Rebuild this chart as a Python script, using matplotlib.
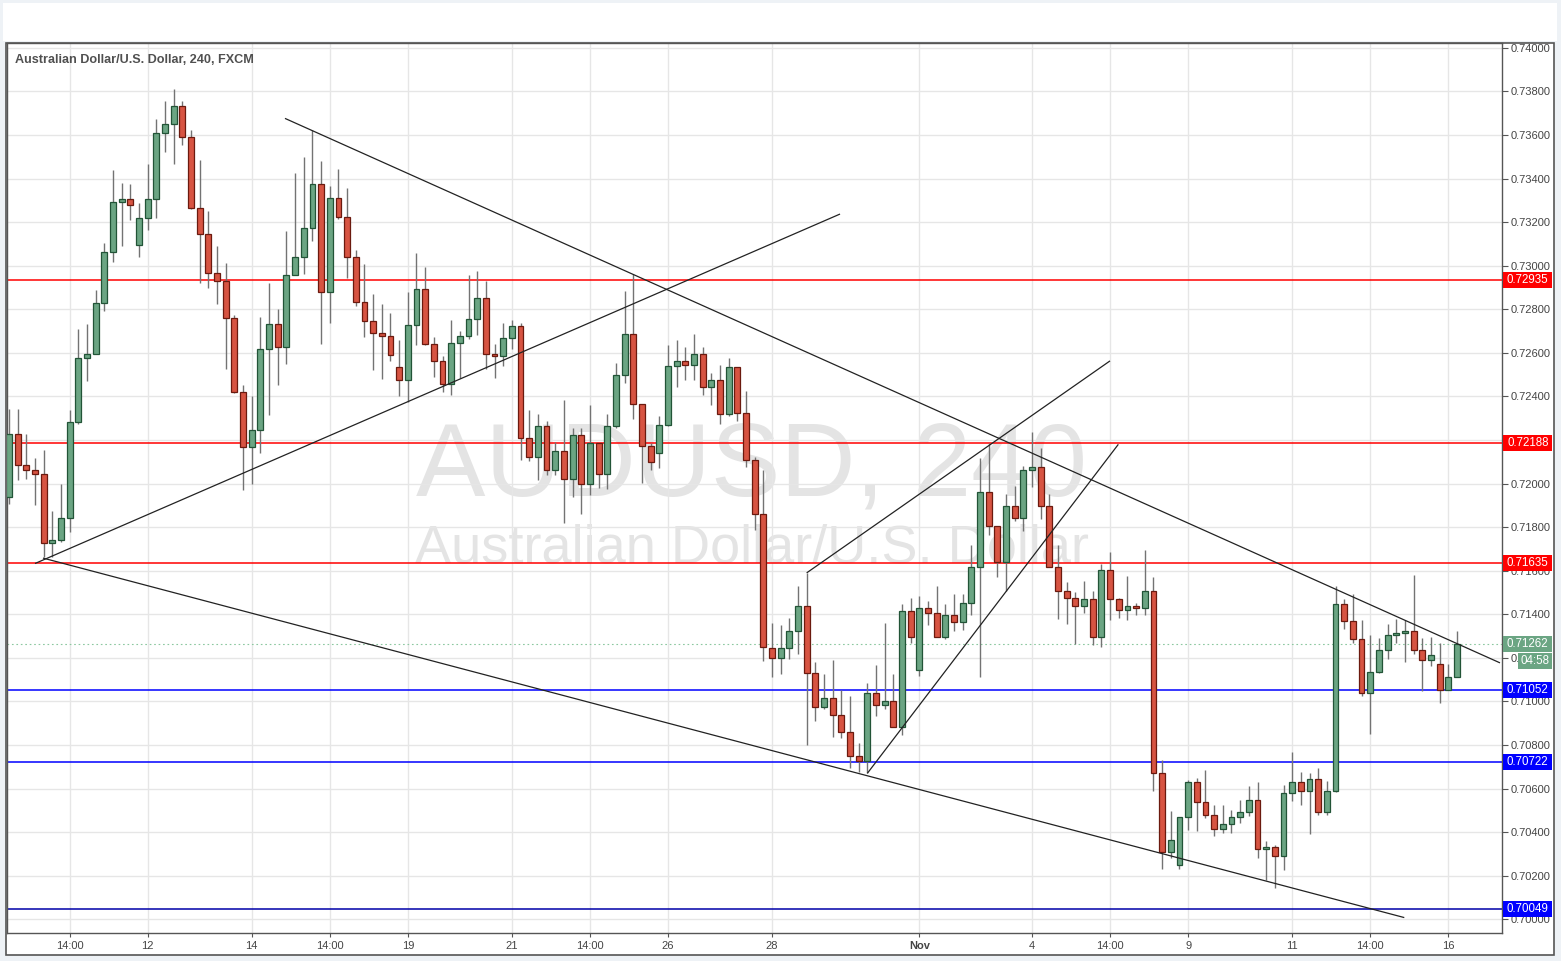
import matplotlib
matplotlib.use('Agg')
import matplotlib.pyplot as plt
from matplotlib.patches import Rectangle
import matplotlib.transforms as mtransforms
import numpy as np

# ---------------- data (AUD/USD 240 min candles) ----------------
opens = [0.71939, 0.72229, 0.72087, 0.72064, 0.72046, 0.71729, 0.71739, 0.71840, 0.72284, 0.72578,
         0.72596, 0.72830, 0.73064, 0.73294, 0.73307, 0.73096, 0.73220, 0.73307, 0.73610, 0.73651,
         0.73734, 0.73592, 0.73266, 0.73147, 0.72968, 0.72931, 0.72762, 0.72422, 0.72170, 0.72248,
         0.72618, 0.72734, 0.72629, 0.72959, 0.73041, 0.73174, 0.73376, 0.72881, 0.73312, 0.73225,
         0.73041, 0.72835, 0.72748, 0.72693, 0.72679, 0.72537, 0.72477, 0.72729, 0.72895, 0.72642,
         0.72564, 0.72459, 0.72647, 0.72679, 0.72757, 0.72853, 0.72596, 0.72587, 0.72670, 0.72725,
         0.72207, 0.72122, 0.72262, 0.72064, 0.72151, 0.72023, 0.72225, 0.72000, 0.72184, 0.72046,
         0.72262, 0.72496, 0.72688, 0.72367, 0.72174, 0.72138, 0.72271, 0.72541, 0.72564, 0.72546,
         0.72596, 0.72445, 0.72477, 0.72317, 0.72537, 0.72326, 0.72110, 0.71862, 0.71246, 0.71200,
         0.71246, 0.71321, 0.71436, 0.71129, 0.70973, 0.71018, 0.70936, 0.70858, 0.70748, 0.70725,
         0.71037, 0.70982, 0.71000, 0.70881, 0.71413, 0.71142, 0.71427, 0.71404, 0.71298, 0.71395,
         0.71363, 0.71450, 0.71619, 0.71959, 0.71803, 0.71642, 0.71899, 0.71840, 0.72060, 0.72078,
         0.71895, 0.71615, 0.71509, 0.71473, 0.71440, 0.71468, 0.71294, 0.71601, 0.71468, 0.71418,
         0.71436, 0.71431, 0.71509, 0.70670, 0.70308, 0.70248, 0.70468, 0.70629, 0.70537, 0.70477,
         0.70413, 0.70436, 0.70468, 0.70491, 0.70546, 0.70321, 0.70333, 0.70289, 0.70578, 0.70629,
         0.70587, 0.70642, 0.70491, 0.70587, 0.71445, 0.71367, 0.71285, 0.71041, 0.71133, 0.71234,
         0.71307, 0.71312, 0.71321, 0.71234, 0.71188, 0.71174, 0.71051, 0.71110]

highs = [0.72340, 0.72340, 0.72226, 0.72115, 0.72153, 0.71873, 0.71997, 0.72336, 0.72709, 0.72731,
         0.72887, 0.73106, 0.73437, 0.73378, 0.73373, 0.73286, 0.73465, 0.73671, 0.73758, 0.73809,
         0.73758, 0.73624, 0.73483, 0.73249, 0.73089, 0.73011, 0.72772, 0.72451, 0.72401, 0.72764,
         0.72922, 0.72803, 0.73157, 0.73427, 0.73501, 0.73621, 0.73482, 0.73367, 0.73445, 0.73358,
         0.73070, 0.73009, 0.72872, 0.72823, 0.72781, 0.72657, 0.72881, 0.73060, 0.72992, 0.72674,
         0.72587, 0.72749, 0.72700, 0.72957, 0.72974, 0.72931, 0.72639, 0.72739, 0.72752, 0.72735,
         0.72336, 0.72318, 0.72286, 0.72193, 0.72385, 0.72257, 0.72257, 0.72362, 0.72188, 0.72317,
         0.72555, 0.72885, 0.72963, 0.72367, 0.72184, 0.72312, 0.72638, 0.72661, 0.72629, 0.72688,
         0.72629, 0.72509, 0.72546, 0.72578, 0.72537, 0.72427, 0.72122, 0.72060, 0.71358, 0.71350,
         0.71382, 0.71529, 0.71590, 0.71179, 0.71125, 0.71190, 0.71052, 0.71024, 0.70809, 0.71083,
         0.71167, 0.71358, 0.71124, 0.71446, 0.71477, 0.71483, 0.71459, 0.71529, 0.71446, 0.71492,
         0.71492, 0.71720, 0.72119, 0.72184, 0.71803, 0.71950, 0.71991, 0.72079, 0.72237, 0.72161,
         0.71950, 0.71716, 0.71546, 0.71500, 0.71555, 0.71505, 0.71629, 0.71688, 0.71474, 0.71575,
         0.71454, 0.71694, 0.71572, 0.70730, 0.70497, 0.70469, 0.70638, 0.70647, 0.70684, 0.70523,
         0.70523, 0.70500, 0.70547, 0.70610, 0.70629, 0.70358, 0.70341, 0.70616, 0.70768, 0.70676,
         0.70670, 0.70694, 0.70635, 0.71529, 0.71468, 0.71491, 0.71376, 0.71303, 0.71290, 0.71355,
         0.71378, 0.71373, 0.71579, 0.71289, 0.71298, 0.71269, 0.71170, 0.71321]

lows = [0.71908, 0.72018, 0.72023, 0.71901, 0.71663, 0.71663, 0.71732, 0.71778, 0.72275, 0.72471,
        0.72596, 0.72792, 0.73017, 0.73090, 0.73208, 0.73040, 0.73162, 0.73218, 0.73521, 0.73466,
        0.73552, 0.73262, 0.72920, 0.72897, 0.72826, 0.72526, 0.72416, 0.71971, 0.71998, 0.72138,
        0.72315, 0.72451, 0.72549, 0.72959, 0.72962, 0.73113, 0.72642, 0.72737, 0.73214, 0.72943,
        0.72817, 0.72673, 0.72521, 0.72480, 0.72564, 0.72404, 0.72376, 0.72636, 0.72634, 0.72489,
        0.72418, 0.72408, 0.72486, 0.72665, 0.72682, 0.72528, 0.72484, 0.72538, 0.72618, 0.72107,
        0.72104, 0.72015, 0.72040, 0.72040, 0.71817, 0.71939, 0.71862, 0.71948, 0.71980, 0.71975,
        0.72257, 0.72462, 0.72296, 0.72003, 0.72064, 0.72073, 0.72266, 0.72443, 0.72477, 0.72473,
        0.72407, 0.72362, 0.72275, 0.72312, 0.72289, 0.72078, 0.71789, 0.71184, 0.71113, 0.71125,
        0.71197, 0.71220, 0.70800, 0.70911, 0.70966, 0.70838, 0.70830, 0.70693, 0.70674, 0.70670,
        0.70934, 0.70963, 0.70881, 0.70844, 0.71266, 0.71119, 0.71353, 0.71298, 0.71285, 0.71321,
        0.71326, 0.71399, 0.71110, 0.71764, 0.71569, 0.71509, 0.71830, 0.71783, 0.71985, 0.71838,
        0.71615, 0.71379, 0.71356, 0.71264, 0.71404, 0.71257, 0.71252, 0.71376, 0.71384, 0.71376,
        0.71395, 0.71399, 0.70590, 0.70230, 0.70280, 0.70230, 0.70408, 0.70404, 0.70463, 0.70381,
        0.70395, 0.70395, 0.70441, 0.70473, 0.70280, 0.70180, 0.70145, 0.70228, 0.70544, 0.70526,
        0.70390, 0.70480, 0.70480, 0.70583, 0.71333, 0.71266, 0.71026, 0.70852, 0.71129, 0.71196,
        0.71269, 0.71182, 0.71218, 0.71049, 0.71163, 0.70991, 0.71051, 0.71110]

closes = [0.72229, 0.72087, 0.72064, 0.72046, 0.71729, 0.71739, 0.71840, 0.72284, 0.72578, 0.72596,
          0.72830, 0.73064, 0.73294, 0.73307, 0.73280, 0.73220, 0.73307, 0.73610, 0.73651, 0.73734,
          0.73592, 0.73266, 0.73147, 0.72968, 0.72931, 0.72762, 0.72422, 0.72170, 0.72248, 0.72619,
          0.72734, 0.72629, 0.72959, 0.73041, 0.73174, 0.73376, 0.72881, 0.73312, 0.73225, 0.73041,
          0.72835, 0.72748, 0.72693, 0.72679, 0.72592, 0.72477, 0.72729, 0.72895, 0.72642, 0.72564,
          0.72459, 0.72647, 0.72679, 0.72757, 0.72853, 0.72596, 0.72587, 0.72670, 0.72725, 0.72207,
          0.72122, 0.72262, 0.72064, 0.72151, 0.72023, 0.72225, 0.72000, 0.72184, 0.72046, 0.72262,
          0.72496, 0.72688, 0.72367, 0.72174, 0.72101, 0.72271, 0.72541, 0.72564, 0.72546, 0.72596,
          0.72445, 0.72477, 0.72317, 0.72537, 0.72326, 0.72110, 0.71862, 0.71248, 0.71200, 0.71246,
          0.71321, 0.71436, 0.71129, 0.70973, 0.71018, 0.70936, 0.70858, 0.70748, 0.70725, 0.71037,
          0.70982, 0.71000, 0.70881, 0.71413, 0.71298, 0.71427, 0.71404, 0.71298, 0.71395, 0.71363,
          0.71450, 0.71619, 0.71959, 0.71803, 0.71642, 0.71899, 0.71840, 0.72060, 0.72078, 0.71895,
          0.71615, 0.71509, 0.71473, 0.71440, 0.71468, 0.71294, 0.71601, 0.71468, 0.71418, 0.71436,
          0.71431, 0.71509, 0.70670, 0.70308, 0.70363, 0.70468, 0.70629, 0.70537, 0.70477, 0.70413,
          0.70436, 0.70468, 0.70491, 0.70546, 0.70321, 0.70330, 0.70289, 0.70578, 0.70629, 0.70587,
          0.70642, 0.70491, 0.70587, 0.71445, 0.71367, 0.71285, 0.71041, 0.71133, 0.71234, 0.71307,
          0.71312, 0.71321, 0.71234, 0.71188, 0.71211, 0.71051, 0.71110, 0.71262]

# x-axis labels (bar index where each label sits)
tick_positions = [7, 16, 28, 37, 46, 58, 67, 76, 88, 105, 118, 127, 136, 148, 157, 166]
tick_labels = ["14:00", "12", "14", "14:00", "19", "21", "14:00", "26", "28",
               "Nov", "4", "14:00", "9", "11", "14:00", "16"]

# price axis ticks
price_ticks = [0.70000, 0.70200, 0.70400, 0.70600, 0.70800, 0.71000, 0.71200,
               0.71400, 0.71600, 0.71800, 0.72000, 0.72200, 0.72400, 0.72600,
               0.72800, 0.73000, 0.73200, 0.73400, 0.73600, 0.73800, 0.74000]
hidden_price_ticks = [0.72200]   # fully covered by a level label in the source

# horizontal support / resistance levels
level_prices = [0.72935, 0.72188, 0.71635, 0.71052, 0.70722, 0.70049]
level_line_colors = ['#ff0000', '#ff0000', '#ff0000', '#0000ff', '#0000ff', '#0000a8']
level_box_colors = ['#ff0000', '#ff0000', '#ff0000', '#0000ff', '#0000ff', '#0000ff']

# trend lines: (bar index start, price start, bar index end, price end)
trend_lines = [
    (31.83, 0.73676, 171.97, 0.71177),
    (3.92, 0.71658, 160.93, 0.70008),
    (3.00, 0.71633, 95.85, 0.73237),
    (92.0, 0.71590, 126.99, 0.72563),
    (99.0, 0.70670, 127.95, 0.72180),
]

last_price = 0.71262
countdown = "04:58"

# ---------------- figure ----------------
W, H = 1561, 961
fig = plt.figure(figsize=(W / 100, H / 100), dpi=100, facecolor='#eef2f6')

# white panels (behind the axes)
fig.patches.append(Rectangle((3 / W, 1 - 41 / H), 1554 / W, 38 / H, transform=fig.transFigure,
                             facecolor='white', edgecolor='none', zorder=-10))
fig.patches.append(Rectangle((6.5 / W, 1 - 955 / H), (1554 - 6.5) / W, (955 - 42.5) / H,
                             transform=fig.transFigure, facecolor='white',
                             edgecolor='#555555', linewidth=1.2, zorder=-10))

ax_left, ax_right, ax_top, ax_bottom = 7, 1502, 42.5, 933
ax = fig.add_axes([ax_left / W, 1 - ax_bottom / H, (ax_right - ax_left) / W, (ax_bottom - ax_top) / H])
ax.set_zorder(1)
ax.set_facecolor('white')

x = np.arange(len(opens))
o = np.array(opens); h = np.array(highs); l = np.array(lows); c = np.array(closes)
up = c >= o

ax.set_xlim(-0.23, 172.2)
ax.set_ylim(0.699372, 0.740243)

# grid
ax.set_yticks(price_ticks)
ax.set_yticklabels(["" if p in hidden_price_ticks else f"{p:.5f}" for p in price_ticks])
ax.set_xticks(tick_positions)
ax.set_xticklabels(tick_labels)
ax.grid(True, color='#e6e6e6', linewidth=1.0, zorder=0)
ax.set_axisbelow(True)

ax.yaxis.tick_right()
ax.tick_params(axis='y', direction='out', length=4, width=0.8, color='#555555',
               labelsize=8, labelcolor='#444444', pad=2)
ax.tick_params(axis='x', direction='out', length=3, width=0.8, color='#555555',
               labelsize=8, labelcolor='#444444', pad=3)
for lab in ax.get_xticklabels() + ax.get_yticklabels():
    lab.set_fontfamily('Liberation Sans')
for lab in ax.get_xticklabels():
    if lab.get_text() == 'Nov':
        lab.set_fontweight('bold')
for s in ax.spines.values():
    s.set_color('#555555')
    s.set_linewidth(1.0)

# watermark
ax.text(0.4983, 0.4916, "AUDUSD, 240", transform=ax.transAxes, ha='center', va='baseline',
        fontsize=75, color='#e4e4e4', family='Liberation Sans', zorder=0.5)
ax.text(0.4983, 0.4164, "Australian Dollar/U.S. Dollar", transform=ax.transAxes, ha='center',
        va='baseline', fontsize=39, color='#e4e4e4', family='Liberation Sans', zorder=0.5)

# current price dotted line
ax.axhline(last_price, color='#8cc8a0', linestyle=(0, (1.5, 2.5)), linewidth=0.8, zorder=1)

# horizontal levels
for p, lc in zip(level_prices, level_line_colors):
    ax.axhline(p, color=lc, linewidth=1.1, zorder=2)

# candles
green_fill, green_edge = '#6ba583', '#225437'
red_fill, red_edge = '#d75442', '#6b1a0f'
ax.vlines(x, l, h, color='#737373', linewidth=1.0, zorder=3)
body_lo = np.minimum(o, c)
body_h = np.maximum(np.abs(c - o), 0.00004)
ax.bar(x[up], body_h[up], bottom=body_lo[up], width=0.68, color=green_fill,
       edgecolor=green_edge, linewidth=0.9, zorder=4)
ax.bar(x[~up], body_h[~up], bottom=body_lo[~up], width=0.68, color=red_fill,
       edgecolor=red_edge, linewidth=0.9, zorder=4)

# trend lines
for x0, y0, x1, y1 in trend_lines:
    ax.plot([x0, x1], [y0, y1], color='#222222', linewidth=0.9, zorder=5,
            solid_capstyle='butt')

# price labels on the right axis
trans = mtransforms.blended_transform_factory(ax.transAxes, ax.transData)
ax_w_px = ax_right - ax_left
px_price = (0.740243 - 0.699372) / (ax_bottom - ax_top)
bx0 = 1.0 + 1.0 / ax_w_px
bw = 49.5 / ax_w_px
bh = 16 * px_price
for p, bc in zip(level_prices, level_box_colors):
    ax.add_patch(Rectangle((bx0, p - bh / 2), bw, bh, transform=trans, facecolor=bc,
                           edgecolor='none', clip_on=False, zorder=10))
    ax.text(bx0 + bw / 2, p, f"{p:.5f}", transform=trans, ha='center', va='center',
            fontsize=8.3, color='white', family='Liberation Sans', clip_on=False, zorder=11)

# last price box and countdown
ax.add_patch(Rectangle((bx0, last_price - bh / 2), bw, bh, transform=trans, facecolor='#6ba583',
                       edgecolor='none', clip_on=False, zorder=10))
ax.text(bx0 + bw / 2, last_price, f"{last_price:.5f}", transform=trans, ha='center', va='center',
        fontsize=8.3, color='white', family='Liberation Sans', clip_on=False, zorder=11)
cd_y = last_price - 16.5 * px_price
cx0 = 1.0 + 16.0 / ax_w_px
cw = 34.5 / ax_w_px
ax.add_patch(Rectangle((cx0, cd_y - bh / 2), cw, bh, transform=trans, facecolor='#6ba583',
                       edgecolor='none', clip_on=False, zorder=10))
ax.text(cx0 + cw / 2, cd_y, countdown, transform=trans, ha='center', va='center',
        fontsize=8.3, color='white', family='Liberation Sans', clip_on=False, zorder=11)

# title
fig.text(15 / W, 1 - 60 / H, "Australian Dollar/U.S. Dollar, 240, FXCM", ha='left', va='center',
         fontsize=9.1, fontweight='bold', color='#505050', family='Liberation Sans', zorder=20)

fig.savefig('out.png', dpi=100, facecolor=fig.get_facecolor())
